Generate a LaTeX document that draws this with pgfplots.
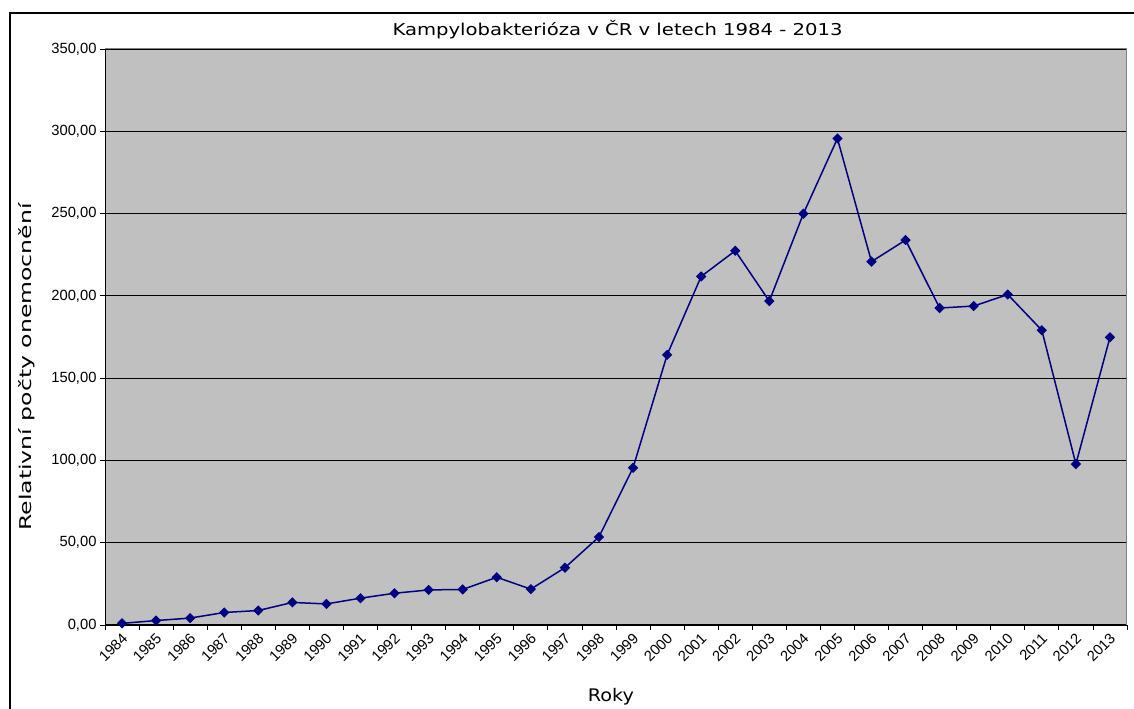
\documentclass[border=0pt]{standalone}
\usepackage{fontspec}
\usepackage{pgfplots}
\pgfplotsset{compat=1.18}
\setmainfont{DejaVu Sans}
\newfontfamily\titlefont[FakeStretch=1.2]{DejaVu Sans}
\newfontfamily\ylabfont[FakeStretch=1.45]{DejaVu Sans}
\newfontfamily\xlabfont[FakeStretch=1.11]{DejaVu Sans}
\newfontfamily\tickfont{Liberation Sans}
\definecolor{plotgray}{HTML}{C0C0C0}
\definecolor{bordergray}{HTML}{808080}
\definecolor{navyline}{HTML}{000080}
\begin{document}
\begin{tikzpicture}[x=1bp,y=1bp]
\begin{axis}[
  at={(105bp,84bp)}, anchor=south west,
  scale only axis, width=1022bp, height=576bp,
  xmin=-0.5, xmax=29.5, ymin=0, ymax=350,
  axis background/.style={fill=plotgray},
  axis lines*=left,
  axis line style={black, line width=1bp},
  tick align=outside,
  major tick length=5bp, minor tick length=5bp,
  tick style={black, line width=0.8bp},
  major x tick style={draw=none},
  xtick={0,...,29},
  minor xtick={-0.5,0.5,...,29.5},
  xticklabels={1984,1985,1986,1987,1988,1989,1990,1991,1992,1993,1994,1995,1996,1997,1998,1999,2000,2001,2002,2003,2004,2005,2006,2007,2008,2009,2010,2011,2012,2013},
  xticklabel style={font=\fontsize{14.8}{16}\tickfont, inner sep=0pt, xshift=-1bp, yshift=-2bp, rotate=45, anchor=north east},
  ytick={0,50,...,350},
  yticklabel style={font=\fontsize{14.8}{16}\tickfont, /pgf/number format/.cd, fixed, fixed zerofill, precision=2, use comma, assume math mode=true},
  ymajorgrids,
  grid style={black, line width=0.9bp},
  title={Kampylobakterióza v ČR v letech 1984 - 2013},
  title style={font=\fontsize{16.4}{18}\titlefont, at={(axis description cs:0.5015,1.0127)}, anchor=base, inner sep=0pt},
  xlabel={Roky},
  xlabel style={font=\fontsize{17.4}{19}\xlabfont, at={(axis description cs:0.495,-0.132)}, anchor=base, inner sep=0pt},
  ylabel={Relativní počty onemocnění},
  ylabel style={font=\fontsize{16.3}{18}\ylabfont, at={(axis description cs:-0.0717,0.448)}, anchor=base, inner sep=0pt},
  after end axis/.code={\draw[bordergray, line width=1bp] (rel axis cs:0,1) -- (rel axis cs:1,1) -- (rel axis cs:1,0);},
]
\addplot[color=navyline, line width=1.5bp, mark=square*, mark size=2.9bp, mark options={fill=navyline, rotate=45, solid}] coordinates {
(0,1.0) (1,2.7) (2,4.2) (3,7.6) (4,8.8) (5,13.7) (6,12.8) (7,16.3) (8,19.3) (9,21.3)
(10,21.6) (11,29.0) (12,21.8) (13,34.8) (14,53.5) (15,95.5) (16,164.1) (17,211.8) (18,227.4) (19,196.8)
(20,249.9) (21,295.6) (22,220.8) (23,233.9) (24,192.6) (25,193.8) (26,200.8) (27,179.1) (28,97.8) (29,174.8)
};
\end{axis}
\draw[black, line width=2bp] (10,-5) -- (10,696) -- (1140,696);
\pgfresetboundingbox
\useasboundingbox (0,0) rectangle (1134,709);
\end{tikzpicture}
\end{document}
